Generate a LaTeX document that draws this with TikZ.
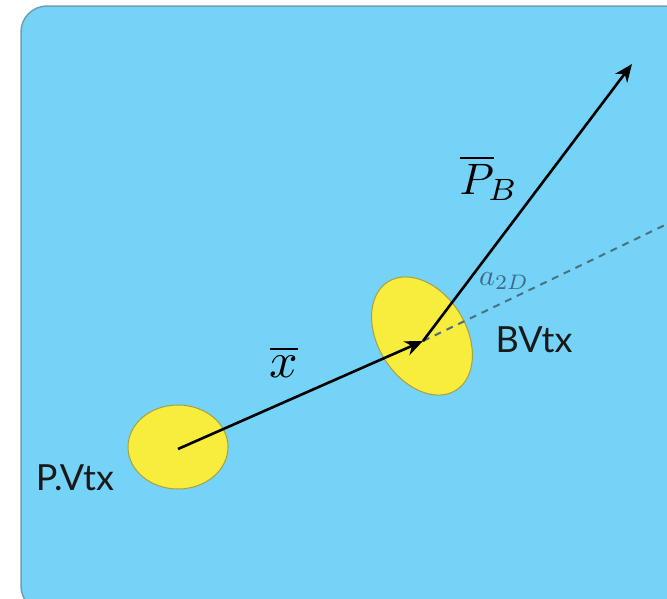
\documentclass[tikz,border=0pt]{standalone}
\usepackage{fontspec}
\usepackage{graphicx}
\newfontfamily\labfont{Lato}
\usetikzlibrary{arrows.meta}
\definecolor{skyb}{HTML}{75D3F8}
\definecolor{skyedge}{HTML}{6E9FB5}
\definecolor{yel}{HTML}{F8EC3C}
\definecolor{yeledge}{HTML}{A8A040}
\definecolor{dashc}{HTML}{4F6F80}
\definecolor{alab}{HTML}{3F6A86}
\tikzset{
  vtx/.style={draw=yeledge, line width=1pt, fill=yel},
  vec/.style={line width=2.6pt, -{Stealth[length=18pt,width=15pt]}},
  lab/.style={font=\labfont\fontsize{36}{38}\selectfont, text=black!90, inner sep=0pt},
}
\begin{document}
\begin{tikzpicture}[x=1pt,y=-1pt]
\useasboundingbox (0,0) rectangle (667,598);
\fill[white] (0,0) rectangle (667,598);
\draw[skyedge, line width=1.5pt, fill=skyb, rounded corners=26pt] (21,6) rectangle (690,612);
% vertices
\draw[vtx] (178,447) ellipse [x radius=50, y radius=42];
\draw[vtx, rotate around={-58:(422,336)}] (422,336) ellipse [x radius=64, y radius=44];
\coordinate (pv) at (178,449);
\coordinate (bv) at (423,341);
\coordinate (ptip) at (632,64);
\coordinate (dend) at (690,213);
% dashed direction
\draw[dashc, line width=2pt, dash pattern=on 7pt off 6pt] (bv) -- (dend);
% vectors
\draw[vec] (pv) -- (bv);
\draw[vec] (bv) -- (ptip);
% labels
\node[lab] (plab) at (75,478) {P.Vtx};
\node[lab] (blab) at (534,340) {BVtx};
\node[inner sep=0pt] (xlab) at (284,362) {\scalebox{5}{$\overline{x}$}};
\node[inner sep=0pt] (plabel) at (489,178) {\scalebox{4.4}{$\overline{P}_{\!B}$}};
\node[inner sep=0pt, text=alab] (alabel) at (504,281) {\scalebox{3}{$a_{2D}$}};
\end{tikzpicture}
\end{document}
